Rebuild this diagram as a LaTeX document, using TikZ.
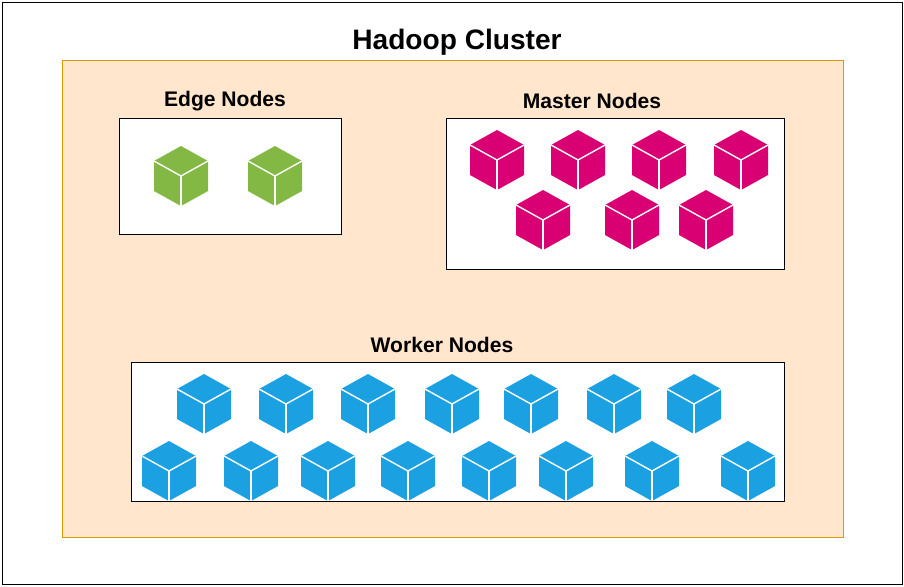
\documentclass[tikz,border=0pt]{standalone}
\usepackage{fontspec}
\setmainfont{Liberation Sans}
\usepackage[rgb]{xcolor}
\definecolor{edgegreen}{HTML}{82B843}
\definecolor{mastermag}{HTML}{D80073}
\definecolor{workerblue}{HTML}{1BA1E2}
\definecolor{clusterfill}{HTML}{FFE6CC}
\definecolor{clusterdraw}{HTML}{D79B00}
\tikzset{
  group box/.style={draw=black, fill=white},
  title/.style={font=\bfseries\fontsize{18}{21}\selectfont},
  cube face/.style={white, line width=1.2pt}
}
% cube at pixel position #1,#2 with colour #3
\newcommand{\hcube}[3]{%
  \fill[#3] (#1,#2) ++(0,-30) -- ++(27,15) -- ++(0,30) -- ++(-27,15) -- ++(-27,-15) -- ++(0,-30) -- cycle;
  \draw[cube face] (#1-27,#2-15) -- (#1,#2) -- (#1+27,#2-15);
  \draw[cube face] (#1,#2) -- (#1,#2+30);
}
\begin{document}
\begin{tikzpicture}[x=0.03cm, y=-0.03cm]

\useasboundingbox (0,0) rectangle (904,586);
\draw[black, line width=0.8pt] (2,2) rectangle (902,584);

% Cluster
\draw[fill=clusterfill, draw=clusterdraw] (62,60) rectangle (843,537);
\node[font=\bfseries\fontsize{24}{28}\selectfont] (cluster) at (457,42) {Hadoop Cluster};

%
% Edge nodes
%
\node[title] (edge) at (225,101) {Edge Nodes};
\draw[group box] (119,118) rectangle (341,234);
\foreach \x in {181,275} {\hcube{\x}{176}{edgegreen}}

%
% Master nodes
%
\node[title] (master) at (592,101) {Master Nodes};
\draw[group box] (446,118) rectangle (784,269);
\foreach \x in {497,578,659,741} {\hcube{\x}{160}{mastermag}}
\foreach \x in {543,632,706} {\hcube{\x}{220}{mastermag}}

%
% Worker nodes
%
\node[title] (worker) at (442,345) {Worker Nodes};
\draw[group box] (131,362) rectangle (784,501);
\foreach \x in {204,286,368,452,531,614,694} {\hcube{\x}{404}{workerblue}}
\foreach \x in {169,251,328,408,489,566,652,748} {\hcube{\x}{471}{workerblue}}

\end{tikzpicture}
\end{document}
